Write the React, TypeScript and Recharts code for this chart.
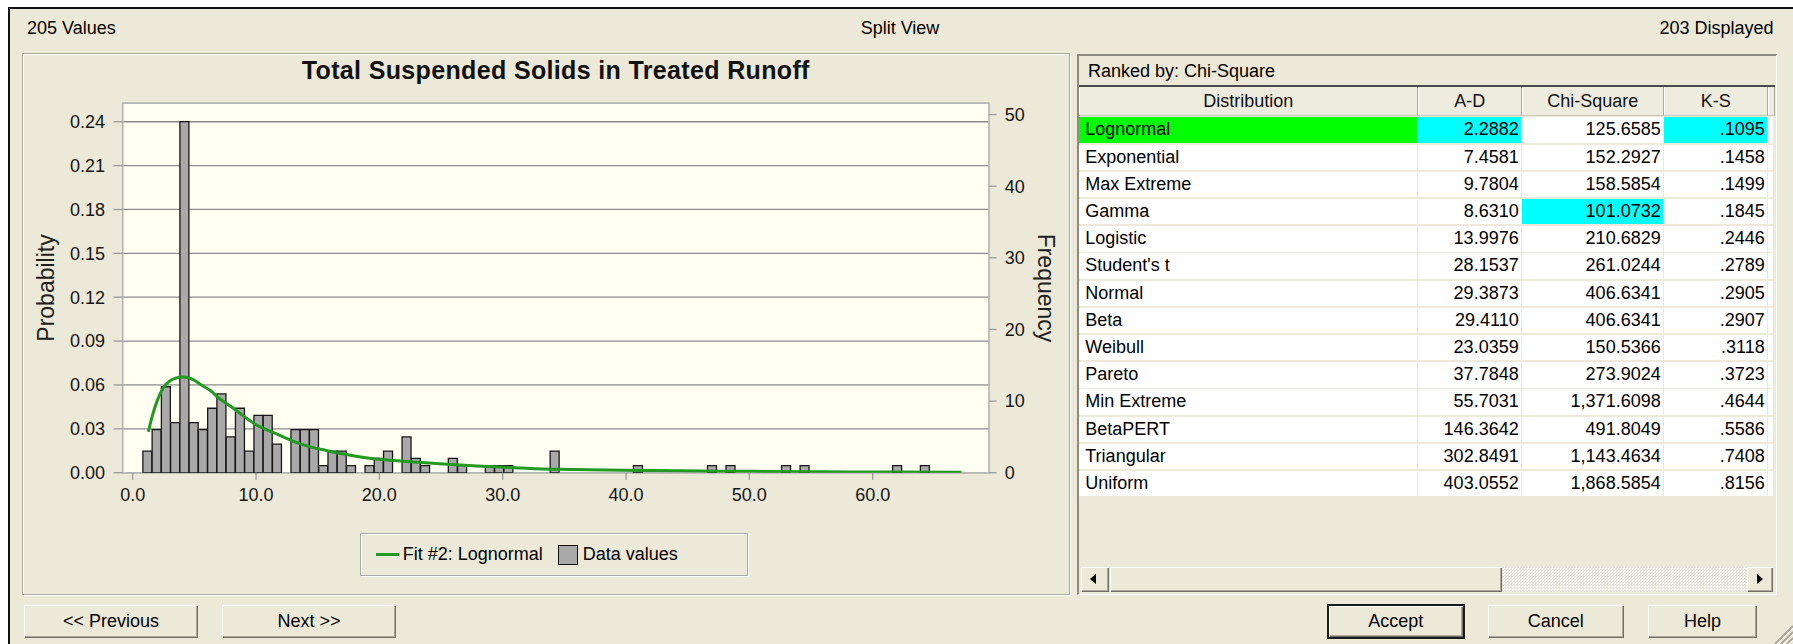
import React from 'react';
import {
  ComposedChart,
  Bar,
  Line,
  XAxis,
  YAxis,
  CartesianGrid,
  Legend,
  ReferenceArea,
} from 'recharts';

const FONT = '"Liberation Sans", Arial, Helvetica, sans-serif';
const DIALOG_BG = '#ECE9D8';

// ---- data -------------------------------------------------------------
const valueCount = 205;
const displayedCount = 203;

// histogram bins: lower edge of bin 0 and common bin width (data units)
const BIN_START = 0.825;
const BIN_WIDTH = 0.7505;
const binCounts = [
  3, 6, 12, 7, 49, 7, 6, 9, 11, 5, 9, 3, 8, 8, 4,
  0, 6, 6, 6, 1, 3, 3, 1, 0, 1,
  2, 3, 0, 5, 2, 1, 0, 0, 2, 1,
  0, 0, 1, 1, 1, 0, 0, 0, 0, 3,
  0, 0, 0, 0, 0, 0, 0, 0, 1, 0,
  0, 0, 0, 0, 0, 0, 1, 0, 1, 0,
  0, 0, 0, 0, 1, 0, 1, 0, 0, 0,
  0, 0, 0, 0, 0, 0, 1, 0, 0, 1,
];

// fitted lognormal curve, expressed in frequency per bin
const fitCurveX = [
  1.27, 1.6, 2.0, 2.5, 3.0, 3.5, 4.0, 4.5, 5.0, 5.5, 6.27, 7.0, 8.0, 9.0, 10.0,
  11.0, 12.2, 13.3, 14.4, 15.7, 17.1, 18.5, 19.8, 21.2, 22.5, 25.2, 27.9, 30.6,
  32.8, 35.5, 38.3, 42.0, 46.0, 50.0, 54.0, 58.0, 62.0, 67.2,
];
const fitCurveFreq = [
  5.7, 8.0, 10.1, 11.9, 12.8, 13.2, 13.35, 13.25, 12.9, 12.3, 11.5, 10.4, 9.2, 7.9, 6.7,
  5.9, 5.0, 4.2, 3.6, 3.1, 2.6, 2.2, 1.9, 1.7, 1.53, 1.2, 0.93, 0.74,
  0.55, 0.45, 0.36, 0.3, 0.24, 0.19, 0.14, 0.11, 0.09, 0.07,
];

const xTicks = [0, 10, 20, 30, 40, 50, 60];
const probTicks = [0, 0.03, 0.06, 0.09, 0.12, 0.15, 0.18, 0.21, 0.24];
const freqTicks = [0, 10, 20, 30, 40, 50];

const distributionNames = [
  'Lognormal', 'Exponential', 'Max Extreme', 'Gamma', 'Logistic', "Student's t", 'Normal',
  'Beta', 'Weibull', 'Pareto', 'Min Extreme', 'BetaPERT', 'Triangular', 'Uniform',
];
const adScores = [
  2.2882, 7.4581, 9.7804, 8.631, 13.9976, 28.1537, 29.3873,
  29.411, 23.0359, 37.7848, 55.7031, 146.3642, 302.8491, 403.0552,
];
const chiSquareScores = [
  125.6585, 152.2927, 158.5854, 101.0732, 210.6829, 261.0244, 406.6341,
  406.6341, 150.5366, 273.9024, 1371.6098, 491.8049, 1143.4634, 1868.5854,
];
const ksScores = [
  0.1095, 0.1458, 0.1499, 0.1845, 0.2446, 0.2789, 0.2905,
  0.2907, 0.3118, 0.3723, 0.4644, 0.5586, 0.7408, 0.8156,
];
const selectedDistribution = 'Lognormal';
const rankedBy = 'Chi-Square';

// ---- derived tables for the chart --------------------------------------
const binData = binCounts.map((count, i) => ({
  x: BIN_START + BIN_WIDTH * (i + 0.5),
  count,
}));
const curveData = fitCurveX.map((x, i) => ({ x, f: fitCurveFreq[i] }));

// axis extents (top of the plot on each scale)
const X_MIN = -0.81;
const X_MAX = 69.43;
const FREQ_MAX = 51.57;
const PROB_MAX = 0.2526;

// ---- formatting helpers ------------------------------------------------
const fmt4 = (n: number) =>
  n.toLocaleString('en-US', { minimumFractionDigits: 4, maximumFractionDigits: 4 });
const fmtKs = (n: number) => n.toFixed(4).replace(/^0/, '');
const argMin = (arr: number[]) => arr.reduce((best, v, i) => (v < arr[best] ? i : best), 0);

// ---- chart pieces ------------------------------------------------------
const tickStyle = { fill: '#151515', fontSize: 18, fontFamily: FONT };

const ProbabilityTitle = (props: any) => {
  const vb = props.viewBox || { x: 0, y: 0, width: 0, height: 0 };
  const cx = vb.x + 24;
  const cy = vb.y + vb.height / 2;
  return (
    <text
      x={cx}
      y={cy}
      transform={`rotate(-90 ${cx} ${cy})`}
      textAnchor="middle"
      dominantBaseline="central"
      fontSize={23}
      fontFamily={FONT}
      fill="#202020"
    >
      Probability
    </text>
  );
};

const FrequencyTitle = (props: any) => {
  const vb = props.viewBox || { x: 0, y: 0, width: 0, height: 0 };
  const cx = vb.x + 57;
  const cy = vb.y + vb.height / 2;
  return (
    <text
      x={cx}
      y={cy}
      transform={`rotate(90 ${cx} ${cy})`}
      textAnchor="middle"
      dominantBaseline="central"
      fontSize={23}
      fontFamily={FONT}
      fill="#202020"
    >
      Frequency
    </text>
  );
};

const renderLegend = (props: any) => {
  const items = [...(props.payload || [])].sort(
    (a: any, b: any) => (a.type === 'line' ? 0 : 1) - (b.type === 'line' ? 0 : 1)
  );
  return (
    <div
      style={{
        boxSizing: 'border-box',
        width: 388,
        height: 43,
        border: '1px solid #A9A9A9',
        boxShadow: 'inset 1px 1px 0 #fff, 1px 1px 0 #fff',
        display: 'flex',
        alignItems: 'center',
        paddingLeft: 15,
        fontSize: 18,
        fontFamily: FONT,
        color: '#000',
        whiteSpace: 'nowrap',
      }}
    >
      {items.map((it: any) =>
        it.type === 'line' ? (
          <span key="fit" style={{ display: 'flex', alignItems: 'center', marginRight: 15 }}>
            <span
              style={{ display: 'inline-block', width: 23, height: 3, background: it.color, marginRight: 4 }}
            />
            {it.value}
          </span>
        ) : (
          <span key="data" style={{ display: 'flex', alignItems: 'center' }}>
            <span
              style={{
                display: 'inline-block',
                boxSizing: 'border-box',
                width: 20,
                height: 20,
                background: '#A9A9A9',
                border: '1.5px solid #111',
                marginRight: 5,
              }}
            />
            {it.value}
          </span>
        )
      )}
    </div>
  );
};

const HistogramChart = () => (
  <ComposedChart
    width={1048}
    height={542}
    data={binData}
    margin={{ top: 50.3, right: 0, bottom: 0, left: 0 }}
    barCategoryGap={0}
    barGap={0}
    style={{ fontFamily: FONT }}
  >
    <CartesianGrid
      xAxisId="bins"
      yAxisId="prob"
      vertical={false}
      stroke="#8C8C8C"
      strokeWidth={1.3}
      fill="#FFFFF2"
    />
    <XAxis
      xAxisId="bins"
      dataKey="x"
      type="number"
      domain={[X_MIN, X_MAX]}
      allowDataOverflow
      ticks={xTicks}
      interval={0}
      tickFormatter={(v: number) => v.toFixed(1)}
      height={122.3}
      tickSize={7}
      tickMargin={9}
      axisLine={false}
      tickLine={{ stroke: '#9A9A9A', strokeWidth: 1.3 }}
      tick={tickStyle}
    />
    <XAxis
      xAxisId="curve"
      dataKey="x"
      type="number"
      domain={[X_MIN, X_MAX]}
      allowDataOverflow
      hide
    />
    <YAxis
      yAxisId="prob"
      orientation="left"
      type="number"
      domain={[0, PROB_MAX]}
      allowDataOverflow
      ticks={probTicks}
      interval={0}
      tickFormatter={(v: number) => v.toFixed(2)}
      width={100.7}
      tickSize={9}
      tickMargin={8.7}
      axisLine={false}
      tickLine={{ stroke: '#9A9A9A', strokeWidth: 1.3 }}
      tick={tickStyle}
      label={<ProbabilityTitle />}
    />
    <YAxis
      yAxisId="freq"
      orientation="right"
      type="number"
      domain={[0, FREQ_MAX]}
      allowDataOverflow
      ticks={freqTicks}
      interval={0}
      width={81}
      tickSize={7.5}
      tickMargin={8.3}
      axisLine={false}
      tickLine={{ stroke: '#9A9A9A', strokeWidth: 1.3 }}
      tick={tickStyle}
      label={<FrequencyTitle />}
    />
    <ReferenceArea
      xAxisId="bins"
      yAxisId="freq"
      x1={X_MIN}
      x2={X_MAX}
      y1={0}
      y2={FREQ_MAX}
      fill="none"
      fillOpacity={0}
      stroke="#B4B4B4"
      strokeWidth={1.6}
    />
    <Bar
      xAxisId="bins"
      yAxisId="freq"
      dataKey="count"
      name="Data values"
      fill="#A9A9A9"
      stroke="#161616"
      strokeWidth={1.3}
      isAnimationActive={false}
    />
    <Line
      xAxisId="curve"
      yAxisId="freq"
      data={curveData}
      dataKey="f"
      name="Fit #2: Lognormal"
      type="monotone"
      stroke="#229A22"
      strokeWidth={3}
      dot={false}
      activeDot={false}
      isAnimationActive={false}
    />
    <Legend
      layout="horizontal"
      verticalAlign="middle"
      align="center"
      content={renderLegend}
      wrapperStyle={{ left: 337.7, top: 480.3, width: 388, height: 43 }}
    />
  </ComposedChart>
);

// ---- dialog chrome -----------------------------------------------------
const raised = 'inset 1px 1px 0 #fff, inset -1px -1px 0 #716F64, inset -2px -2px 0 #ACA899';

const Button = ({ left, width, label, isDefault }: { left: number; width: number; label: string; isDefault?: boolean }) => (
  <div
    style={{
      position: 'absolute',
      left,
      top: 604,
      width,
      height: 34.5,
      boxSizing: 'border-box',
      background: DIALOG_BG,
      border: isDefault ? '2px solid #1A1A1A' : '1px solid #ECE9D8',
      boxShadow: raised,
      display: 'flex',
      alignItems: 'center',
      justifyContent: 'center',
      fontSize: 18,
    }}
  >
    {label}
  </div>
);

const columns = [
  { key: 'name', label: 'Distribution', x0: 1079.3, x1: 1418.3 },
  { key: 'ad', label: 'A-D', x0: 1418.3, x1: 1522.3 },
  { key: 'chi', label: 'Chi-Square', x0: 1522.3, x1: 1664.3 },
  { key: 'ks', label: 'K-S', x0: 1664.3, x1: 1768.3 },
  { key: 'pad', label: '', x0: 1768.3, x1: 1775 },
];
const ROW_TOP = 117.3;
const ROW_PITCH = 27.2;
const CELL_H = 25.6;

const RankingTable = () => {
  const bestAd = argMin(adScores);
  const bestChi = argMin(chiSquareScores);
  const bestKs = argMin(ksScores);
  const cells: React.ReactNode[] = [];
  distributionNames.forEach((name, i) => {
    const top = ROW_TOP + i * ROW_PITCH;
    columns.forEach((c) => {
      let text = '';
      let bg = '#fff';
      let align: 'left' | 'right' = 'right';
      if (c.key === 'name') {
        text = name;
        align = 'left';
        if (name === selectedDistribution) bg = '#00FF00';
      } else if (c.key === 'ad') {
        text = fmt4(adScores[i]);
        if (i === bestAd) bg = '#00FFFF';
      } else if (c.key === 'chi') {
        text = fmt4(chiSquareScores[i]);
        if (i === bestChi) bg = '#00FFFF';
      } else if (c.key === 'ks') {
        text = fmtKs(ksScores[i]);
        if (i === bestKs) bg = '#00FFFF';
      }
      cells.push(
        <div
          key={`${c.key}-${i}`}
          style={{
            position: 'absolute',
            left: c.x0,
            top,
            width: c.x1 - c.x0 - 1.6,
            height: CELL_H,
            background: bg,
            lineHeight: `${CELL_H}px`,
            fontSize: 18,
            textAlign: align,
            boxSizing: 'border-box',
            paddingLeft: align === 'left' ? 6 : 0,
            paddingRight: align === 'right' ? 2 : 0,
            whiteSpace: 'nowrap',
            overflow: 'hidden',
          }}
        >
          {text}
        </div>
      );
    });
  });

  return (
    <>
      {/* sunken frame of the list */}
      <div
        style={{
          position: 'absolute',
          left: 1077,
          top: 54,
          width: 700,
          height: 541,
          boxSizing: 'border-box',
          borderTop: '2px solid #8D8A7E',
          borderLeft: '2px solid #8D8A7E',
          borderRight: '1.5px solid #fff',
          borderBottom: '1.5px solid #fff',
          background: DIALOG_BG,
        }}
      />
      {/* caption */}
      <div
        style={{
          position: 'absolute',
          left: 1088,
          top: 58,
          height: 27,
          lineHeight: '27px',
          fontSize: 18,
        }}
      >
        Ranked by: {rankedBy}
      </div>
      <div style={{ position: 'absolute', left: 1079, top: 84.5, width: 696, height: 2, background: '#4A4A4A' }} />
      {/* header */}
      {columns.map((c) => (
        <div
          key={`h-${c.key}`}
          style={{
            position: 'absolute',
            left: c.x0,
            top: 87,
            width: c.x1 - c.x0,
            height: 29,
            boxSizing: 'border-box',
            background: '#EEEBDF',
            borderRight: '1.5px solid #ACA899',
            boxShadow: 'inset 1px 0 0 #fff',
            borderBottom: '1px solid #C9C6B8',
            lineHeight: '28px',
            fontSize: 18,
            textAlign: 'center',
            color: '#111',
          }}
        >
          {c.label}
        </div>
      ))}
      {/* body */}
      <div
        style={{
          position: 'absolute',
          left: 1079.3,
          top: ROW_TOP - 1,
          width: 1775 - 1079.3,
          height: distributionNames.length * ROW_PITCH,
          background: '#EDEADC',
        }}
      />
      {cells}
      {/* horizontal scrollbar */}
      <div
        style={{
          position: 'absolute',
          left: 1080.7,
          top: 567.3,
          width: 692.6,
          height: 24.4,
          backgroundColor: '#F6F5F0',
          backgroundImage:
            'repeating-conic-gradient(#E4E1D4 0% 25%, #FBFAF6 0% 50%)',
          backgroundSize: '3px 3px',
        }}
      />
      <div
        style={{
          position: 'absolute',
          left: 1080.7,
          top: 567.3,
          width: 28.6,
          height: 24.4,
          background: DIALOG_BG,
          boxShadow: raised,
        }}
      >
        <div
          style={{
            position: 'absolute',
            left: 9,
            top: 7,
            width: 0,
            height: 0,
            borderTop: '5px solid transparent',
            borderBottom: '5px solid transparent',
            borderRight: '6px solid #000',
          }}
        />
      </div>
      <div
        style={{
          position: 'absolute',
          left: 1110,
          top: 567.3,
          width: 391.7,
          height: 24.4,
          background: DIALOG_BG,
          boxShadow: raised,
        }}
      />
      <div
        style={{
          position: 'absolute',
          left: 1746.7,
          top: 567.3,
          width: 26.6,
          height: 24.4,
          background: DIALOG_BG,
          boxShadow: raised,
        }}
      >
        <div
          style={{
            position: 'absolute',
            left: 10,
            top: 7,
            width: 0,
            height: 0,
            borderTop: '5px solid transparent',
            borderBottom: '5px solid transparent',
            borderLeft: '6px solid #000',
          }}
        />
      </div>
    </>
  );
};

const SizeGrip = () => (
  <svg
    width={24}
    height={24}
    style={{ position: 'absolute', left: 1769, top: 620 }}
  >
    {[6, 12, 18].map((d) => (
      <g key={d}>
        <line x1={24 - d} y1={24} x2={24} y2={24 - d} stroke="#ACA899" strokeWidth={2} />
        <line x1={24 - d + 2} y1={24} x2={24} y2={24 - d + 2} stroke="#fff" strokeWidth={1} />
      </g>
    ))}
  </svg>
);

export default function App() {
  return (
    <div
      style={{
        position: 'absolute',
        left: 0,
        top: 0,
        width: 1793,
        height: 644,
        overflow: 'hidden',
        background: '#fff',
        fontFamily: FONT,
        color: '#000',
      }}
    >
      {/* dialog surface with its dark frame on the top and left */}
      <div
        style={{
          position: 'absolute',
          left: 8,
          top: 7,
          right: 0,
          bottom: 0,
          background: DIALOG_BG,
          borderLeft: '2px solid #101010',
          borderTop: '2px solid #101010',
        }}
      />

      {/* status line */}
      <div style={{ position: 'absolute', left: 27, top: 18, height: 21, lineHeight: '21px', fontSize: 18 }}>
        {valueCount} Values
      </div>
      <div
        style={{
          position: 'absolute',
          left: 800,
          width: 200,
          top: 18,
          height: 21,
          lineHeight: '21px',
          fontSize: 18,
          textAlign: 'center',
        }}
      >
        Split View
      </div>
      <div
        style={{
          position: 'absolute',
          right: 1793 - 1773.5,
          top: 18,
          height: 21,
          lineHeight: '21px',
          fontSize: 18,
          textAlign: 'right',
        }}
      >
        {displayedCount} Displayed
      </div>

      {/* chart panel */}
      <div
        style={{
          position: 'absolute',
          left: 22,
          top: 53,
          width: 1048,
          height: 542,
          boxSizing: 'border-box',
          border: '1px solid #ACA899',
          boxShadow: 'inset 1px 1px 0 #fff, 1px 1px 0 #fff',
        }}
      />
      <div style={{ position: 'absolute', left: 22, top: 53 }}>
        <HistogramChart />
      </div>
      <div
        style={{
          position: 'absolute',
          left: 255.8,
          width: 600,
          top: 56,
          height: 28,
          lineHeight: '28px',
          textAlign: 'center',
          fontSize: 25,
          fontWeight: 'bold',
          letterSpacing: 0.35,
          color: '#111',
        }}
      >
        Total Suspended Solids in Treated Runoff
      </div>

      <RankingTable />

      <Button left={23} width={176} label="<< Previous" />
      <Button left={221} width={176} label="Next >>" />
      <Button left={1326.7} width={138.3} label="Accept" isDefault />
      <Button left={1486.7} width={138.3} label="Cancel" />
      <Button left={1646.7} width={111.6} label="Help" />

      <SizeGrip />
    </div>
  );
}
